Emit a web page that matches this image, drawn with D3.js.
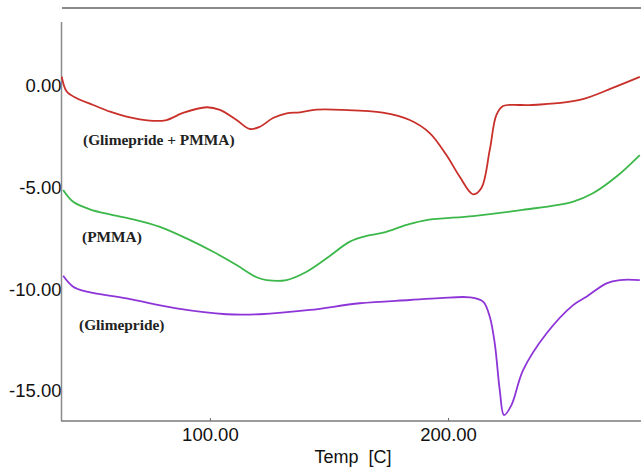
<!DOCTYPE html>
<html>
<head>
<meta charset="utf-8">
<script src="https://cdn.jsdelivr.net/npm/d3@7"></script>
<style>
  body { margin: 0; background: #fff; }
  svg { display: block; }
  .tick text { font-family: "Liberation Sans", Arial, sans-serif; fill: #111; }
</style>
</head>
<body>
<svg id="chart"></svg>
<script>
// DSC curves, [temp C, heat flow]
const blendCurve = [
  [37.8, 0.42], [39.9, -0.31], [44.1, -0.64], [51.0, -0.97], [58.1, -1.30], [65.0, -1.54],
  [74.8, -1.74], [81.8, -1.71], [88.7, -1.36], [98.6, -1.08], [104.2, -1.21], [111.2, -1.71],
  [116.8, -2.15], [121.0, -2.04], [126.5, -1.61], [132.2, -1.38], [137.8, -1.33], [144.8, -1.20],
  [155.8, -1.21], [172.6, -1.35], [183.9, -1.71], [192.3, -2.35], [199.3, -3.43], [204.9, -4.50],
  [210.5, -5.36], [214.0, -5.05], [217.5, -3.18], [220.3, -1.46], [223.1, -1.02], [230.1, -0.97],
  [235.5, -0.97], [255.3, -0.72], [269.1, -0.13], [280.5, 0.41]
];
const pmmaCurve = [
  [38.4, -5.15], [42.6, -5.73], [49.6, -6.10], [58.0, -6.35], [67.8, -6.59], [79.0, -6.96],
  [90.2, -7.53], [101.4, -8.19], [111.2, -8.84], [119.6, -9.44], [123.8, -9.58], [132.2, -9.58],
  [140.6, -9.17], [149.0, -8.51], [158.8, -7.69], [165.8, -7.41], [172.8, -7.25], [182.6, -6.87],
  [190.9, -6.63], [210.5, -6.43], [231.3, -6.13], [252.3, -5.73], [260.8, -5.31], [270.6, -4.50],
  [280.5, -3.43]
];
const glimCurve = [
  [38.4, -9.37], [42.6, -9.91], [48.3, -10.15], [65.0, -10.48], [86.0, -10.97], [107.0, -11.26],
  [121.0, -11.26], [142.0, -11.05], [162.9, -10.72], [183.9, -10.56], [196.5, -10.47], [209.1, -10.43],
  [214.7, -10.64], [217.5, -11.38], [219.6, -12.69], [221.7, -14.99], [223.5, -16.22], [226.6, -15.73],
  [231.5, -14.01], [241.3, -12.21], [252.5, -10.81], [258.1, -10.40], [266.5, -9.74], [272.1, -9.58],
  [280.5, -9.58]
];
const seriesNames = ['(Glimepride + PMMA)', '(PMMA)', '(Glimepride)'];
const xTicks = [100, 200];
const yTicks = [0, -5, -10, -15];

const width = 641, height = 469;
const svg = d3.select('#chart').attr('width', width).attr('height', height);

const x = d3.scaleLinear().domain([37.7, 281]).range([61.5, 641]);
const y = d3.scaleLinear().domain([-16.5, 3.8]).range([420.8, 8]);
const fmt = d => d.toFixed(2);

// top frame line
svg.append('line')
  .attr('x1', 62).attr('x2', 641).attr('y1', 8).attr('y2', 8)
  .attr('stroke', '#8a8a8a').attr('stroke-width', 2);

// left axis
const yAxis = svg.append('g')
  .attr('transform', 'translate(61.5,0)')
  .call(d3.axisLeft(y).tickValues(yTicks).tickFormat(fmt).tickSize(0).tickPadding(0));
yAxis.select('.domain').remove();
yAxis.selectAll('text').attr('font-size', 18.5).attr('dy', '0.36em');
svg.append('line')
  .attr('x1', 61.5).attr('x2', 61.5).attr('y1', 22).attr('y2', 421)
  .attr('stroke', '#8a8a8a').attr('stroke-width', 1.5);

// bottom axis
const xAxis = svg.append('g')
  .attr('transform', 'translate(0,421)')
  .call(d3.axisBottom(x).tickValues(xTicks).tickFormat(fmt).tickSize(-3).tickPadding(7));
xAxis.select('.domain').remove();
xAxis.selectAll('.tick line').attr('stroke', '#666');
xAxis.selectAll('text').attr('font-size', 18.5);
svg.append('line')
  .attr('x1', 61).attr('x2', 641).attr('y1', 421).attr('y2', 421)
  .attr('stroke', '#7a7a7a').attr('stroke-width', 1.5);

svg.append('text')
  .attr('x', 353).attr('y', 463)
  .attr('text-anchor', 'middle')
  .attr('font-family', '"Liberation Sans", Arial, sans-serif')
  .attr('font-size', 18)
  .attr('fill', '#111')
  .style('white-space', 'pre')
  .text('Temp  [C]');

const line = d3.line()
  .x(d => x(d[0]))
  .y(d => y(d[1]))
  .curve(d3.curveCatmullRom.alpha(0.5));

const curves = [
  { data: blendCurve, color: '#c9302a' },
  { data: pmmaCurve, color: '#3cb84b' },
  { data: glimCurve, color: '#8e35d8' }
];

svg.selectAll('path.curve')
  .data(curves)
  .enter().append('path')
  .attr('class', 'curve')
  .attr('d', d => line(d.data))
  .attr('fill', 'none')
  .attr('stroke', d => d.color)
  .attr('stroke-width', 1.8);

// curve labels
const labelPos = [[83, 145], [82, 242], [79, 330]];
svg.selectAll('text.label')
  .data(seriesNames)
  .enter().append('text')
  .attr('class', 'label')
  .attr('x', (d, i) => labelPos[i][0])
  .attr('y', (d, i) => labelPos[i][1])
  .attr('font-family', '"Liberation Serif", "Times New Roman", serif')
  .attr('font-weight', 'bold')
  .attr('font-size', 15.4)
  .attr('fill', '#222')
  .text(d => d);
</script>
</body>
</html>
